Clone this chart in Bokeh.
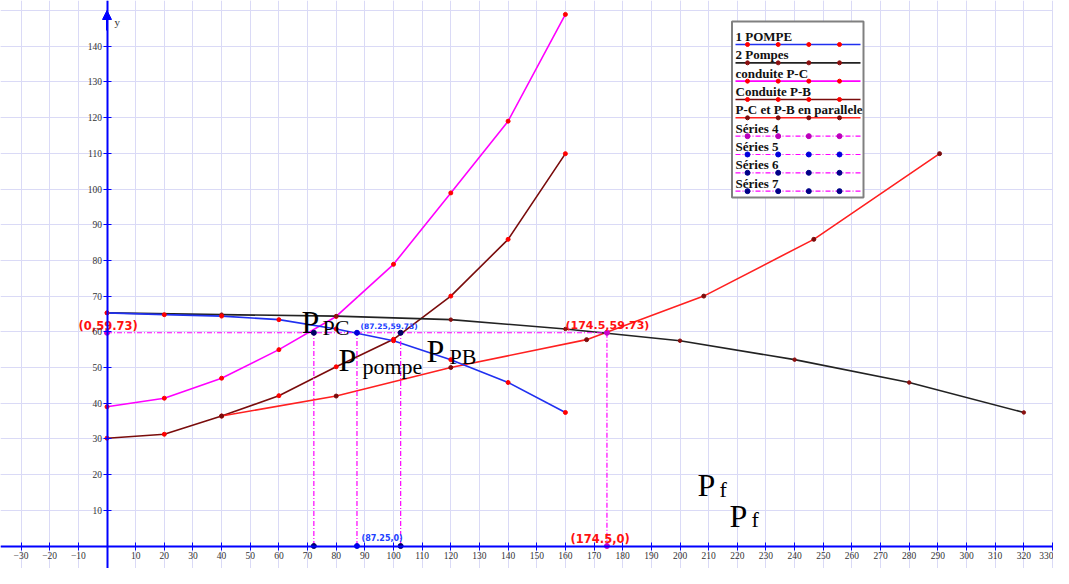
from bokeh.plotting import figure
from bokeh.models import LinearAxis, SingleIntervalTicker, FixedTicker, Grid, Arrow, NormalHead
from bokeh.core.properties import value
from bokeh.embed import file_html
from bokeh.resources import INLINE

# ---------------- data ----------------
q_one = [0, 20, 40, 60, 80, 100, 120, 140, 160]
h_one = [65.3, 64.8, 64.4, 63.4, 60.8, 57.5, 52.2, 45.8, 37.4]
q_two = [0, 40, 80, 120, 160, 200, 240, 280, 320]
h_two = [65.3, 64.8, 64.4, 63.4, 60.8, 57.5, 52.2, 45.8, 37.4]
q_pc = [0, 20, 40, 60, 80, 100, 120, 140, 160]
h_pc = [39.0, 41.4, 47.0, 55.0, 64.3, 78.9, 98.9, 119.0, 148.9]
q_pb = [0, 20, 40, 60, 80, 100, 120, 140, 160]
h_pb = [30.2, 31.3, 36.4, 42.1, 50.2, 57.9, 70.0, 85.9, 109.9]
q_par = [40, 80, 120, 167.4, 208.3, 246.7, 290.6]
h_par = [36.4, 42.0, 50.0, 57.8, 70.0, 85.9, 109.9]

h_op = 59.73
q_op = 174.5
q_pump = 87.25
q_pc_op = 72.2
q_pb_op = 102.5

legend_labels = ["1 POMPE", "2 Pompes", "conduite P-C", "Conduite P-B",
                 "P-C et P-B en parallele", "Séries 4", "Séries 5", "Séries 6", "Séries 7"]
x_ticks = [v for v in range(-30, 331, 10) if v != 0]
y_ticks = [-10] + list(range(10, 141, 10))

# ---------------- layout helpers ----------------
W, H = 1053, 568
X0, XS = 106.5, 2.865
Y0, YS = 545.5, 3.57
x_start, x_end = (0 - X0) / XS, (W - X0) / XS
y_start, y_end = (Y0 - H) / YS, (Y0 - 0) / YS


def dx(X):
    return (X - X0) / XS


def dy(Y):
    return (Y0 - Y) / YS


p = figure(width=W, height=H, x_range=(x_start, x_end), y_range=(y_start, y_end),
           output_backend="svg", toolbar_location=None,
           x_axis_location=None, y_axis_location=None, min_border=0,
           outline_line_color=None, background_fill_color="white")

grid_col = "#dadaf6"
p.add_layout(Grid(dimension=0, ticker=SingleIntervalTicker(interval=10),
                  grid_line_color=grid_col, grid_line_width=1))
p.add_layout(Grid(dimension=1, ticker=SingleIntervalTicker(interval=10),
                  grid_line_color=grid_col, grid_line_width=1))

axis_kw = dict(axis_line_color="#0000ff", axis_line_width=2,
               major_tick_line_color="#0000ff", major_tick_in=4, major_tick_out=4,
               minor_tick_line_color=None,
               major_label_text_font="Liberation Serif", major_label_text_font_size="9.5px",
               major_label_text_color="#333333")
xa = LinearAxis(fixed_location=0, ticker=FixedTicker(ticks=x_ticks), major_label_standoff=2, **axis_kw)
ya = LinearAxis(fixed_location=0, ticker=FixedTicker(ticks=y_ticks), major_label_standoff=1, **axis_kw)
p.add_layout(xa, "below")
p.add_layout(ya, "left")

p.add_layout(Arrow(end=NormalHead(size=9, fill_color="#0000ff", line_color="#0000ff"),
                   x_start=0, y_start=dy(30), x_end=0, y_end=dy(10),
                   line_color="#0000ff", line_width=2))
p.text(x=[dx(114)], y=[dy(21)], text=["y"], text_font=value("Liberation Serif"),
       text_font_size="11px", text_color="#333333", text_baseline="alphabetic")

# ---------------- curves ----------------
p.line(q_pc, h_pc, line_color="#ff00ff", line_width=1.6)
p.scatter(q_pc, h_pc, size=4, color="#ff0000")
p.line(q_pb, h_pb, line_color="#7a0c0c", line_width=1.6)
p.scatter(q_pb, h_pb, size=4, color="#ff0000")
p.line(q_par, h_par, line_color="#ff2020", line_width=1.6)
p.scatter(q_par, h_par, size=4, color="#7a0c0c")
p.line(q_two, h_two, line_color="#222222", line_width=1.6)
p.scatter(q_two, h_two, size=3.5, color="#8b1010")
p.line(q_one, h_one, line_color="#2030f0", line_width=1.6)
p.scatter(q_one, h_one, size=4, color="#ff0000")

# ---------------- helper dashed lines ----------------
dash = "5 2 1 2"
mag = "#ff00ff"
p.line([0, q_op, q_op], [h_op, h_op, 0], line_color=mag, line_width=1.2, line_dash=dash)
for q in (q_pc_op, q_pump, q_pb_op):
    p.line([q, q], [0, h_op], line_color=mag, line_width=1.2, line_dash=dash)
p.scatter([0, q_op, q_op], [h_op, h_op, 0], size=5, color="#cc00cc")
p.scatter([q_pump, q_pump], [h_op, 0], size=5, color="#0000dd")
p.scatter([q_pc_op, q_pc_op, q_pb_op, q_pb_op], [h_op, 0, h_op, 0], size=5, color="#000066")

# ---------------- value labels ----------------
red = "#ff1010"
p.text(x=[dx(78)], y=[dy(325)], text=["(0,59.73)"], text_font=value("DejaVu Sans"),
       text_font_style="bold", text_font_size="11.5px", text_color=red, text_baseline="middle")
p.text(x=[dx(565)], y=[dy(325)], text=["(174.5,59.73)"], text_font=value("DejaVu Sans"),
       text_font_style="bold", text_font_size="11px", text_color=red, text_baseline="middle")
p.text(x=[dx(570)], y=[dy(538)], text=["(174.5,0)"], text_font=value("DejaVu Sans"),
       text_font_style="bold", text_font_size="11.5px", text_color=red, text_baseline="middle")
p.text(x=[dx(360)], y=[dy(326)], text=["(87.25,59.73)"], text_font=value("DejaVu Sans"),
       text_font_style="bold", text_font_size="7.5px", text_color="#2040ff", text_baseline="middle")
p.text(x=[dx(361)], y=[dy(538)], text=["(87.25,0)"], text_font=value("DejaVu Sans"),
       text_font_style="bold", text_font_size="8px", text_color="#2040ff", text_baseline="middle")

# ---------------- big point names ----------------
serif = value("Liberation Serif")
big = [("P", 301, 321), ("P", 338, 359), ("P", 426, 350), ("P", 697, 484), ("P", 729, 515)]
sub = [("PC", 322, 327), ("pompe", 362, 366), ("PB", 449, 356), ("f", 719, 489), ("f", 751, 519)]
p.text(x=[dx(b[1]) for b in big], y=[dy(b[2]) for b in big], text=[b[0] for b in big],
       text_font=serif, text_font_size="32px", text_color="#000000", text_baseline="alphabetic")
p.text(x=[dx(s[1]) for s in sub], y=[dy(s[2]) for s in sub], text=[s[0] for s in sub],
       text_font=serif, text_font_size="22px", text_color="#000000", text_baseline="alphabetic")

# ---------------- legend (drawn) ----------------
p.quad(left=[dx(731.5)], right=[dx(863)], top=[dy(21)], bottom=[dy(197)],
       fill_color="white", line_color="#808080", line_width=2)
styles = [("#2030f0", None, "#ff0000"), ("#222222", None, "#8b1010"),
          ("#ff00ff", None, "#ff0000"), ("#7a0c0c", None, "#ff0000"),
          ("#ff2020", None, "#7a0c0c"), ("#ff00ff", dash, "#bb00bb"),
          ("#ff00ff", dash, "#0000dd"), ("#ff00ff", dash, "#000088"),
          ("#ff00ff", dash, "#000088")]
mk_x = [dx(747), dx(777.7), dx(808.3), dx(839)]
for i, (lab, (lc, ld, mc)) in enumerate(zip(legend_labels, styles)):
    ty = 36.0 + i * 18.33
    ly = 44.0 + i * 18.33
    p.text(x=[dx(735)], y=[dy(ty)], text=[lab], text_font=serif, text_font_style="bold",
           text_font_size="13px", text_color="#111111", text_baseline="middle")
    kw = dict(line_color=lc, line_width=1.6 if ld is None else 1.2)
    if ld is not None:
        kw["line_dash"] = ld
    p.line([dx(735), dx(860)], [dy(ly), dy(ly)], **kw)
    p.scatter(mk_x, [dy(ly)] * 4, size=4 if ld is None else 5, color=mc)

open("out.html", "w").write(file_html(p, INLINE))
